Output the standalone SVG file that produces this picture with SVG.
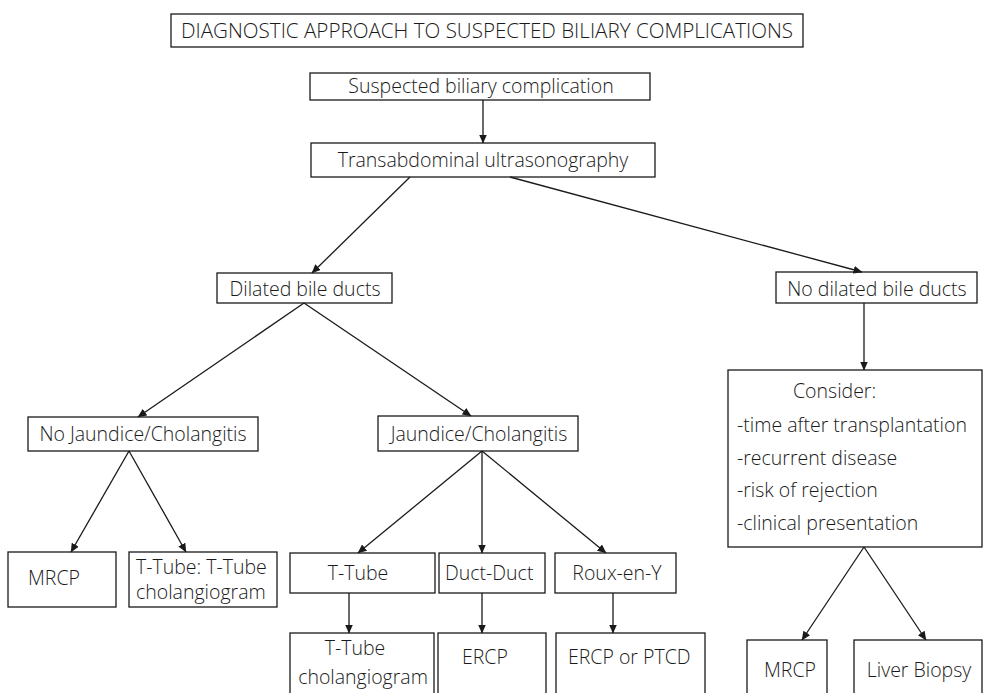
<svg xmlns="http://www.w3.org/2000/svg" width="984" height="693" viewBox="0 0 984 693">
<style>
rect{fill:#fff;stroke:#1a1a1a;stroke-width:1.3}
text{font-family:"Open Sans","Noto Sans",sans-serif;font-size:19.5px;font-weight:350;fill:#1a1a1a}
.c{text-anchor:middle}
#edges line{stroke:#1a1a1a;stroke-width:1.3;marker-end:url(#ah)}
</style>
<defs>
<marker id="ah" markerWidth="9" markerHeight="8" refX="8.5" refY="4" orient="auto" markerUnits="userSpaceOnUse">
<path d="M0,0 L9,4 L0,8 z" fill="#1a1a1a"/>
</marker>
</defs>
<rect width="984" height="693" style="fill:#fff;stroke:none"/>
<g id="title"><rect x="171" y="14" width="632" height="33"/><text x="181" y="38" textLength="612" lengthAdjust="spacingAndGlyphs">DIAGNOSTIC APPROACH TO SUSPECTED BILIARY COMPLICATIONS</text></g>
<g id="suspected"><rect x="310" y="73" width="340" height="27"/><text class="c" x="481" y="93">Suspected biliary complication</text></g>
<g id="ultra"><rect x="311" y="143" width="344" height="34"/><text class="c" x="483" y="167">Transabdominal ultrasonography</text></g>
<g id="dilated"><rect x="217" y="273" width="175" height="30"/><text class="c" x="305" y="296">Dilated bile ducts</text></g>
<g id="nodilated"><rect x="776" y="272" width="201" height="31"/><text class="c" x="877" y="296">No dilated bile ducts</text></g>
<g id="nojaundice"><rect x="28" y="417" width="230" height="34"/><text class="c" x="143" y="441">No Jaundice/Cholangitis</text></g>
<g id="jaundice"><rect x="378" y="416" width="200" height="35"/><text class="c" x="479" y="441">Jaundice/Cholangitis</text></g>
<g id="mrcp1"><rect x="8" y="552" width="108" height="55"/><text x="28" y="585">MRCP</text></g>
<g id="ttube1"><rect x="129" y="552" width="148" height="55"/><text x="136" y="574">T-Tube: T-Tube</text><text x="136" y="599">cholangiogram</text></g>
<g id="ttube2"><rect x="290" y="553" width="145" height="40"/><text class="c" x="358" y="580">T-Tube</text></g>
<g id="ductduct"><rect x="439" y="553" width="106" height="40"/><text x="445" y="580">Duct-Duct</text></g>
<g id="roux"><rect x="555" y="553" width="121" height="40"/><text class="c" x="617" y="580">Roux-en-Y</text></g>
<g id="ttubechol"><rect x="290" y="633" width="144" height="63"/><text class="c" x="355" y="655">T-Tube</text><text class="c" x="363" y="684">cholangiogram</text></g>
<g id="ercp"><rect x="438" y="633" width="108" height="63"/><text x="462" y="664">ERCP</text></g>
<g id="ercpptcd"><rect x="556" y="633" width="149" height="63"/><text x="568" y="664">ERCP or PTCD</text></g>
<g id="consider"><rect x="728" y="370" width="254" height="177"/>
<text x="793" y="398">Consider:</text>
<text x="737" y="432">-time after transplantation</text>
<text x="737" y="465">-recurrent disease</text>
<text x="737" y="497">-risk of rejection</text>
<text x="737" y="530">-clinical presentation</text></g>
<g id="mrcp2"><rect x="747" y="640" width="80" height="56"/><text class="c" x="790" y="677">MRCP</text></g>
<g id="biopsy"><rect x="854" y="640" width="128" height="56"/><text class="c" x="919" y="677">Liver Biopsy</text></g>
<g id="edges">
<line x1="483" y1="100" x2="483" y2="143"/>
<line x1="410" y1="177" x2="312" y2="273"/>
<line x1="510" y1="177" x2="862" y2="272"/>
<line x1="304" y1="303" x2="138" y2="417"/>
<line x1="304" y1="303" x2="471" y2="416"/>
<line x1="129" y1="451" x2="71" y2="552"/>
<line x1="129" y1="451" x2="186" y2="552"/>
<line x1="482" y1="451" x2="358" y2="553"/>
<line x1="482" y1="451" x2="482" y2="553"/>
<line x1="482" y1="451" x2="606" y2="553"/>
<line x1="349" y1="593" x2="349" y2="633"/>
<line x1="482" y1="593" x2="482" y2="633"/>
<line x1="613" y1="593" x2="613" y2="633"/>
<line x1="864" y1="303" x2="864" y2="370"/>
<line x1="864" y1="547" x2="802" y2="640"/>
<line x1="864" y1="547" x2="926" y2="640"/>
</g>
</svg>
